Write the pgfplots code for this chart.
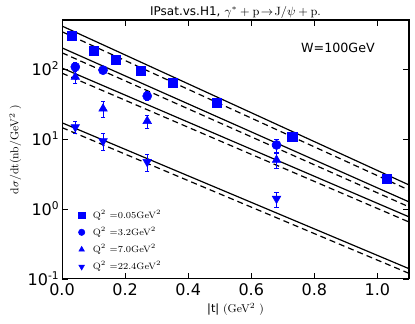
\documentclass[border=0pt]{standalone}
\usepackage{fontspec}
\setsansfont{DejaVu Sans}
\usepackage{pgfplots}
\pgfplotsset{compat=1.18}

\begin{document}
\begin{tikzpicture}
\pgfplotsset{
    databar/.style={only marks, blue,
        error bars/y dir=both, error bars/y explicit,
        error bars/error bar style={line width=0.6pt},
        error bars/error mark options={rotate=90, mark size=1.6pt, line width=0.6pt}},
    model/.style={black, line width=0.9pt, forget plot},
    modeldash/.style={black, line width=0.9pt, forget plot, dash pattern=on 4.5pt off 3pt},
}
\begin{axis}[
    scale only axis,
    width=260pt, height=194pt,
    ymode=log, log basis y=10,
    xmin=0, xmax=1.1, ymin=0.1, ymax=500,
    xtick={0,0.2,0.4,0.6,0.8,1.0},
    xticklabels={0.0,0.2,0.4,0.6,0.8,1.0},
    ytick={0.1,1,10,100},
    yticklabels={10\textsuperscript{-1},10\textsuperscript{0},10\textsuperscript{1},10\textsuperscript{2}},
    minor xtick={},
    ticklabel style={font=\sffamily\fontsize{12}{14}\selectfont},
    yticklabel style={xshift=1.5pt},
    tick align=inside, xtick pos=both, ytick pos=both,
    major tick length=4.5pt, minor tick length=2.5pt,
    every tick/.style={black, line width=0.6pt},
    axis line style={line width=0.8pt},
    title={{\sffamily IPsat.vs.H1,} $\gamma^{*}+\mathrm{p}\!\rightarrow\!\mathrm{J}/\psi+\mathrm{p}.$},
    title style={font=\fontsize{9}{11}\selectfont, yshift=-8.5pt},
    xlabel={{\sffamily |t|} (GeV$^2$ )},
    xlabel style={font=\fontsize{8.5}{10}\selectfont, yshift=1pt},
    ylabel={d$\sigma$/dt(nb/GeV$^2$ )},
    ylabel style={font=\fontsize{8.5}{10}\selectfont, yshift=-2pt},
    legend style={at={(0.035,0.005)}, anchor=south west, draw=none, fill=none,
        font=\fontsize{6.9}{8}\selectfont, row sep=1.2pt,
        /tikz/every odd column/.append style={column sep=4pt}},
    legend cell align=left,
    legend image post style={mark size=2.4pt},
]
\coordinate (ll) at (rel axis cs:0,0);
\coordinate (ur) at (rel axis cs:1,1);
% model curves
\addplot[model] coordinates {(0,410) (1.1,2.2)};
\addplot[modeldash] coordinates {(0,340) (1.1,1.86)};
\addplot[model] coordinates {(0,200) (1.1,1.26)};
\addplot[modeldash] coordinates {(0,170) (1.1,1.07)};
\addplot[model] coordinates {(0,103) (1.1,0.77)};
\addplot[modeldash] coordinates {(0,87) (1.1,0.65)};
\addplot[model] coordinates {(0,17) (1.1,0.14)};
\addplot[modeldash] coordinates {(0,14.5) (1.1,0.12)};
% data
\addplot[databar, mark=square*, mark size=3.4pt] coordinates {
    (0.032,296) +- (0,12)
    (0.10,180) +- (0,8)
    (0.17,134) +- (0,6)
    (0.25,94) +- (0,4)
    (0.35,63) +- (0,3)
    (0.49,33) +- (0,2)
    (0.73,10.7) +- (0,0.7)
    (1.03,2.7) +- (0,0.25)
};
\addlegendentry{Q$^2$ =0.05GeV$^2$}
\addplot[databar, mark=*, mark size=3.4pt] coordinates {
    (0.042,107) +- (0,15)
    (0.13,96) +- (0,10)
    (0.27,41) +- (0,6)
    (0.68,8.2) +- (0,1.8)
};
\addlegendentry{Q$^2$ =3.2GeV$^2$}
\addplot[databar, mark=triangle*, mark size=3.7pt] coordinates {
    (0.042,77) +- (0,15)
    (0.13,27) +- (0,7)
    (0.27,18) +- (0,4)
    (0.68,5.0) +- (0,1.2)
};
\addlegendentry{Q$^2$ =7.0GeV$^2$}
\addplot[databar, mark=triangle*, mark size=3.7pt, mark options={rotate=180}] coordinates {
    (0.042,14.8) +- (0,3)
    (0.13,9.3) +- (0,2.5)
    (0.27,4.7) +- (0,1.3)
    (0.68,1.4) +- (0,0.35)
};
\addlegendentry{Q$^2$ =22.4GeV$^2$}
\node[anchor=north east, font=\sffamily\fontsize{9.5}{11}\selectfont]
    at (rel axis cs:0.915,0.93) {W=100GeV};
\end{axis}
\pgfresetboundingbox
\path ([shift={(-46.5pt,-33.75pt)}]ll) rectangle ([shift={(4.5pt,15pt)}]ur);
\end{tikzpicture}
\end{document}
